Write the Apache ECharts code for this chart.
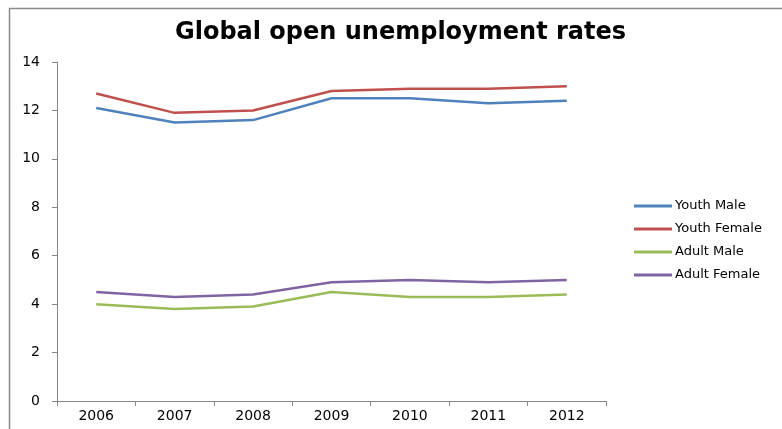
<!DOCTYPE html>
<html>
<head>
<meta charset="utf-8">
<script src="https://cdn.jsdelivr.net/npm/echarts@6/dist/echarts.min.js"></script>
<style>
  html, body { margin: 0; padding: 0; background: #fff; }
  #chart { width: 782px; height: 429px; }
</style>
</head>
<body>
<div id="chart"></div>
<script>
// Years on the category axis
const years = ['2006', '2007', '2008', '2009', '2010', '2011', '2012'];

// Open unemployment rates (%) by group
const youthMale   = [12.1, 11.5, 11.6, 12.5, 12.5, 12.3, 12.4];
const youthFemale = [12.7, 11.9, 12.0, 12.8, 12.9, 12.9, 13.0];
const adultMale   = [4.0, 3.8, 3.9, 4.5, 4.3, 4.3, 4.4];
const adultFemale = [4.5, 4.3, 4.4, 4.9, 5.0, 4.9, 5.0];

const seriesNames = ['Youth Male', 'Youth Female', 'Adult Male', 'Adult Female'];
const seriesData = [youthMale, youthFemale, adultMale, adultFemale];
const colors = ['#4F81BD', '#C0504D', '#9BBB59', '#8064A2'];

const font = 'DejaVu Sans';
const axisGray = '#868686';

const chart = echarts.init(document.getElementById('chart'), null, { renderer: 'canvas' });

chart.setOption({
  animation: false,
  backgroundColor: '#fff',
  color: colors,
  title: {
    text: 'Global open unemployment rates',
    left: 175,
    top: 21,
    padding: 0,
    textStyle: { fontFamily: font, fontWeight: 'bold', fontSize: 24, color: '#000' }
  },
  graphic: [{
    type: 'rect',
    shape: { x: 9.5, y: 8.5, width: 900, height: 600 },
    style: { fill: 'none', stroke: '#8a8a8a', lineWidth: 1.5 },
    silent: true
  }],
  legend: {
    orient: 'vertical',
    left: 634,
    top: 199,
    padding: 0,
    itemWidth: 38,
    itemHeight: 3,
    itemGap: 9,
    icon: 'rect',
    textStyle: { fontFamily: font, fontSize: 13, color: '#000', lineHeight: 14, padding: [0, 0, 0, -2] },
    data: seriesNames
  },
  grid: { left: 57, right: 176, top: 62, bottom: 28, containLabel: false },
  xAxis: {
    type: 'category',
    data: years,
    boundaryGap: true,
    axisLine: { lineStyle: { color: axisGray, width: 1 } },
    axisTick: { show: true, length: 5, lineStyle: { color: axisGray } },
    axisLabel: { fontFamily: font, fontSize: 14, color: '#000', margin: 8 },
    splitLine: { show: false }
  },
  yAxis: {
    type: 'value',
    min: 0,
    max: 14,
    interval: 2,
    axisLine: { show: true, lineStyle: { color: axisGray, width: 1 } },
    axisTick: { show: true, length: 5, lineStyle: { color: axisGray } },
    axisLabel: { fontFamily: font, fontSize: 14, color: '#000', margin: 17 },
    splitLine: { show: false }
  },
  series: seriesNames.map((name, i) => ({
    name: name,
    type: 'line',
    data: seriesData[i],
    symbol: 'none',
    lineStyle: { width: 2.5, color: colors[i] },
    itemStyle: { color: colors[i] }
  }))
});
</script>
</body>
</html>
